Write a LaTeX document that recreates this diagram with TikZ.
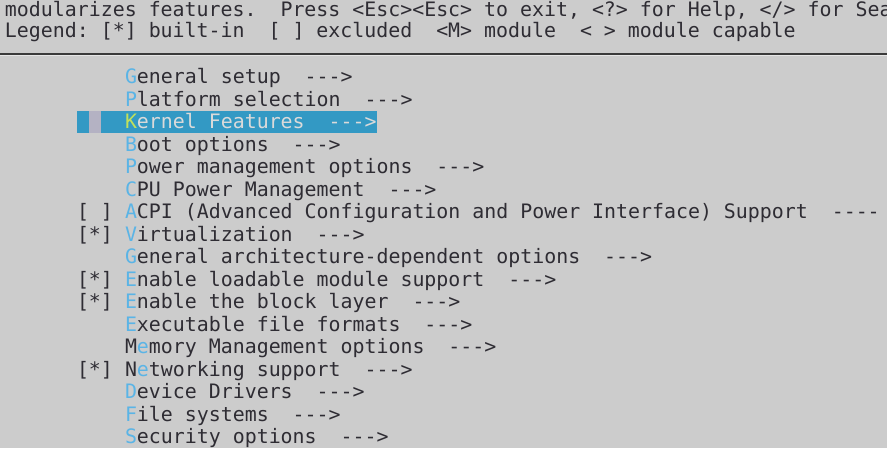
\documentclass[tikz,border=0pt]{standalone}
\usepackage{fontspec}
\newfontfamily\term{DejaVu Sans Mono}
\definecolor{bg}{HTML}{CCCCCC}
\definecolor{fg}{HTML}{2E2C33}
\definecolor{hk}{HTML}{5AB4E6}
\definecolor{hlblue}{HTML}{3399C4}
\definecolor{hlgray}{HTML}{B4B2C3}
\definecolor{hltext}{HTML}{DADADA}
\definecolor{hlkey}{HTML}{C2E05A}
\definecolor{rule}{HTML}{3A3A3A}
\definecolor{rulelight}{HTML}{E6E6E6}
\tikzset{
  termtext/.style={inner sep=0pt, outer sep=0pt, anchor=base west,
    font=\term\fontsize{19.9}{22}\selectfont\frenchspacing, text=fg},
}
\newcommand{\hk}[1]{\textcolor{hk}{#1}}
\begin{document}
\begin{tikzpicture}[x=1pt,y=-1pt]
\useasboundingbox (0,0) rectangle (887,448);
\clip (0,0) rectangle (887,448);
\fill[bg] (0,0) rectangle (887,448);
% header
\node[termtext] (h1) at (5,16.7) {modularizes features.~~Press <Esc><Esc> to exit, <?> for Help, </> for Sea};
\node[termtext] (h2) at (5,37.7) {Legend: [*] built-in~~[ ] excluded~~<M> module~~< > module capable};
\draw[rule, line width=1.3pt] (0,54) -- (887,54);
\draw[rulelight, line width=1pt] (0,55.6) -- (887,55.6);
% highlight bar
\fill[hlblue] (77,110.8) rectangle (377,133.3);
\fill[hlgray] (89,110.8) rectangle (101,133.3);
% menu rows
\node[termtext] (r0) at (125,{83.5+22.5*0}) {\hk{G}eneral setup~~--->};
\node[termtext] (r1) at (125,{83.5+22.5*1}) {\hk{P}latform selection~~--->};
\node[termtext, text=hltext] (r2) at (125,{83.5+22.5*2}) {\textcolor{hlkey}{K}ernel Features~~--->};
\node[termtext] (r3) at (125,{83.5+22.5*3}) {\hk{B}oot options~~--->};
\node[termtext] (r4) at (125,{83.5+22.5*4}) {\hk{P}ower management options~~--->};
\node[termtext] (r5) at (125,{83.5+22.5*5}) {\hk{C}PU Power Management~~--->};
\node[termtext] (p6) at (77,{83.5+22.5*6}) {[ ]};
\node[termtext] (r6) at (125,{83.5+22.5*6}) {\hk{A}CPI (Advanced Configuration and Power Interface) Support~~----};
\node[termtext] (p7) at (77,{83.5+22.5*7}) {[*]};
\node[termtext] (r7) at (125,{83.5+22.5*7}) {\hk{V}irtualization~~--->};
\node[termtext] (r8) at (125,{83.5+22.5*8}) {\hk{G}eneral architecture-dependent options~~--->};
\node[termtext] (p9) at (77,{83.5+22.5*9}) {[*]};
\node[termtext] (r9) at (125,{83.5+22.5*9}) {\hk{E}nable loadable module support~~--->};
\node[termtext] (p10) at (77,{83.5+22.5*10}) {[*]};
\node[termtext] (r10) at (125,{83.5+22.5*10}) {\hk{E}nable the block layer~~--->};
\node[termtext] (r11) at (125,{83.5+22.5*11}) {\hk{E}xecutable file formats~~--->};
\node[termtext] (r12) at (125,{83.5+22.5*12}) {M\hk{e}mory Management options~~--->};
\node[termtext] (p13) at (77,{83.5+22.5*13}) {[*]};
\node[termtext] (r13) at (125,{83.5+22.5*13}) {N\hk{e}tworking support~~--->};
\node[termtext] (r14) at (125,{83.5+22.5*14}) {\hk{D}evice Drivers~~--->};
\node[termtext] (r15) at (125,{83.5+22.5*15}) {\hk{F}ile systems~~--->};
\node[termtext] (r16) at (125,{83.5+22.5*16}) {\hk{S}ecurity options~~--->};
\end{tikzpicture}
\end{document}
